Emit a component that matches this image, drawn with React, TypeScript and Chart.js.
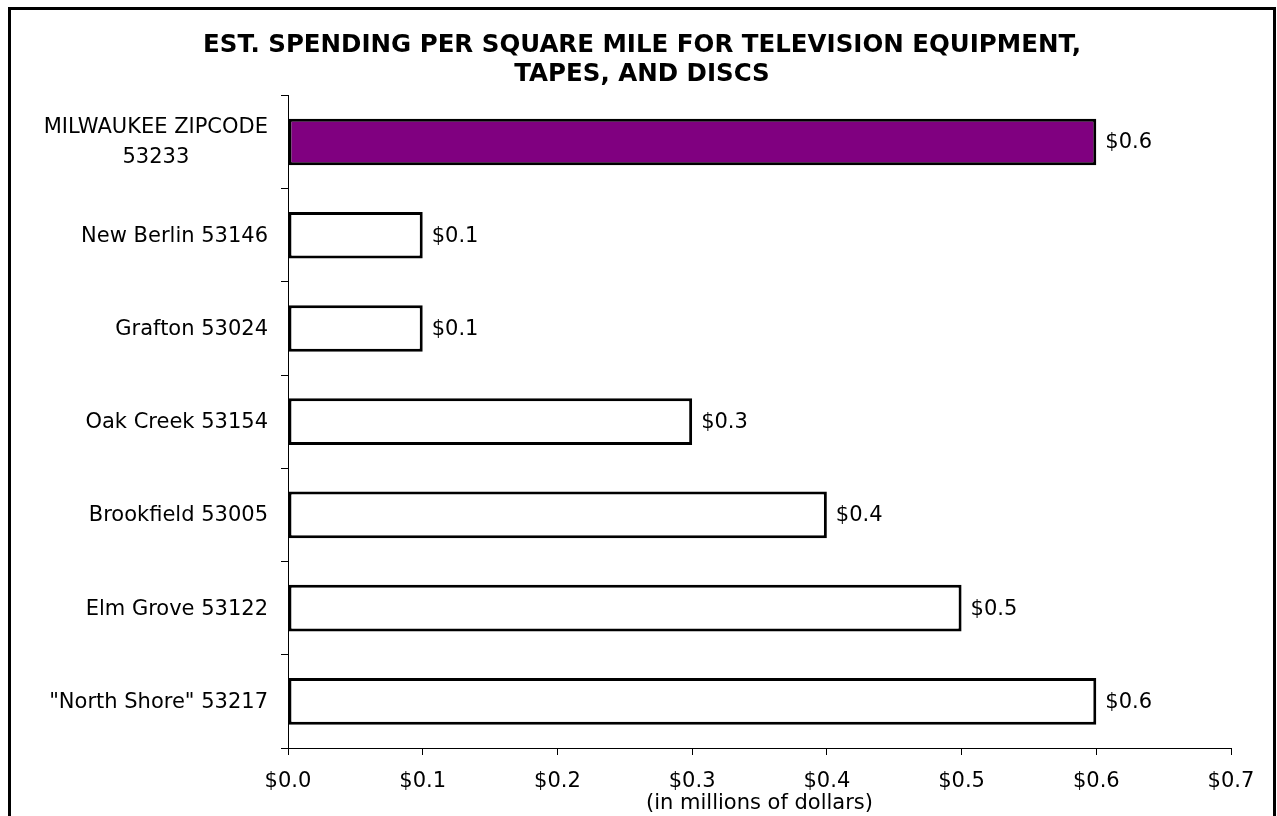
import React, { useEffect, useRef } from 'react';
import { Chart, registerables } from 'chart.js';

Chart.register(...registerables);

const titleLines = ['EST. SPENDING PER SQUARE MILE FOR TELEVISION EQUIPMENT,', 'TAPES, AND DISCS'];
const categories: (string | string[])[] = [
  ['MILWAUKEE ZIPCODE', '53233'],
  'New Berlin 53146',
  'Grafton 53024',
  'Oak Creek 53154',
  'Brookfield 53005',
  'Elm Grove 53122',
  '"North Shore" 53217',
];
const values = [0.6, 0.1, 0.1, 0.3, 0.4, 0.5, 0.6];
const highlightIndex = 0;
const xMin = 0;
const xMax = 0.7;
const xStep = 0.1;
const xTitle = '(in millions of dollars)';

const LABEL_FONT = '"DejaVu Sans", Verdana, sans-serif';
const FONT_SIZE = 21;
const fmt = (v: number) => '$' + Number(v).toFixed(1);

const labelPlugin = {
  id: 'customLabels',
  afterDatasetsDraw(chart: any) {
    const ctx = chart.ctx as CanvasRenderingContext2D;
    const yScale = chart.scales.y;
    const meta = chart.getDatasetMeta(0);
    ctx.save();
    ctx.font = `${FONT_SIZE}px ${LABEL_FONT}`;
    ctx.fillStyle = '#000';
    ctx.textBaseline = 'middle';
    meta.data.forEach((bar: any, i: number) => {
      const p = bar.getProps(['x', 'y'], true);
      ctx.textAlign = 'left';
      ctx.fillText(fmt(values[i]), p.x + 9, p.y + 1);
    });
    categories.forEach((cat, i) => {
      const lines = Array.isArray(cat) ? cat : [cat];
      const yc = yScale.getPixelForTick(i);
      const right = yScale.right - 20;
      const maxW = Math.max(...lines.map((l) => ctx.measureText(l).width));
      const cx = right - maxW / 2;
      ctx.textAlign = 'center';
      const lh = 30;
      lines.forEach((l, j) => ctx.fillText(l, cx, yc + 1 + (j - (lines.length - 1) / 2) * lh));
    });
    ctx.restore();
  },
};

export default function App() {
  const ref = useRef<HTMLCanvasElement | null>(null);
  useEffect(() => {
    if (!ref.current) return;
    Chart.defaults.font.family = LABEL_FONT;
    const chart = new Chart(ref.current, {
      type: 'bar',
      data: {
        labels: categories as any,
        datasets: [
          {
            data: values,
            backgroundColor: values.map((_, i) => (i === highlightIndex ? '#800080' : '#ffffff')),
            borderColor: '#000',
            borderWidth: 3,
            borderSkipped: false,
            barPercentage: 0.5,
            categoryPercentage: 1,
          },
        ],
      },
      options: {
        indexAxis: 'y',
        responsive: false,
        animation: false,
        layout: { padding: { left: 42, right: 42, top: 0, bottom: 0 } },
        plugins: {
          legend: { display: false },
          tooltip: { enabled: false },
          title: {
            display: true,
            text: titleLines,
            color: '#000',
            font: { family: '"DejaVu Sans", Verdana, sans-serif', size: 24.5, weight: 'bold', lineHeight: 1.15 },
            padding: { top: 22, bottom: 7 },
          },
        },
        scales: {
          x: {
            min: xMin,
            max: xMax,
            ticks: {
              stepSize: xStep,
              callback: (v: any) => fmt(Number(v)),
              font: { family: LABEL_FONT, size: FONT_SIZE },
              color: '#000',
              padding: 14,
              maxRotation: 0,
              autoSkip: false,
            },
            grid: { drawOnChartArea: false, drawTicks: true, tickLength: 7, color: '#000' },
            border: { display: true, color: '#000', width: 1 },
            title: {
              display: true,
              text: xTitle,
              color: '#000',
              font: { family: LABEL_FONT, size: FONT_SIZE },
              padding: { top: -2, bottom: 0 },
            },
            afterFit: (s: any) => {
              s.height = 68;
            },
          },
          y: {
            ticks: { display: false },
            grid: { drawOnChartArea: false, drawTicks: true, tickLength: 7, color: '#000', offset: true },
            border: { display: true, color: '#000', width: 1 },
            afterFit: (s: any) => {
              s.width = 235;
            },
          },
        },
      },
      plugins: [labelPlugin],
    });
    return () => chart.destroy();
  }, []);
  return (
    <div
      style={{
        position: 'fixed',
        left: 8,
        top: 7,
        width: 1268,
        height: 840,
        border: '3px solid #000',
        boxSizing: 'border-box',
        background: '#fff',
        overflow: 'hidden',
      }}
    >
      <canvas ref={ref} width={1262} height={806} style={{ display: 'block' }} />
    </div>
  );
}
